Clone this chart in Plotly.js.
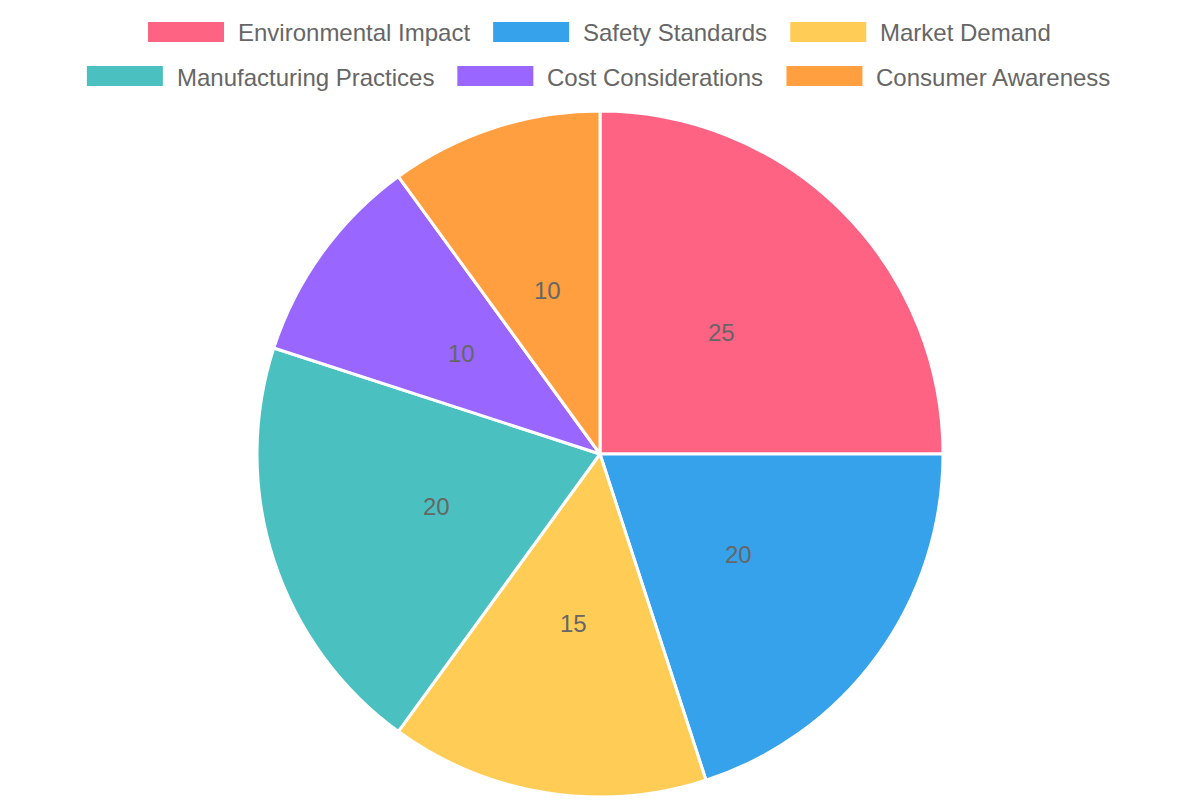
<!DOCTYPE html>
<html>
<head>
<meta charset="utf-8">
<script src="https://cdn.plot.ly/plotly-3.0.1.min.js"></script>
<style>
  html, body { margin: 0; padding: 0; background: #fff; }
  #chart { width: 1200px; height: 800px; }
</style>
</head>
<body>
<div id="chart"></div>
<script>
const factors = [
  "Environmental Impact",
  "Safety Standards",
  "Market Demand",
  "Manufacturing Practices",
  "Cost Considerations",
  "Consumer Awareness"
];
const shares = [25, 20, 15, 20, 10, 10];
const colors = ["#ff6384", "#36a2eb", "#ffcd56", "#4bc0c0", "#9966ff", "#ff9f40"];

const W = 1200, H = 800;
const FONT = "Liberation Sans, Arial, sans-serif";
const margin = { l: 0, r: 0, t: 111, b: 3 };
const plotW = W - margin.l - margin.r;
const plotH = H - margin.t - margin.b;
const radius = Math.min(plotW, plotH) / 2;

// pixel -> paper helpers (plot area spans the full width)
const px = (x) => (x - margin.l) / plotW;
const py = (y) => (H - margin.b - y) / plotH;

// value labels sit halfway out along each slice's middle angle
const total = shares.reduce((a, b) => a + b, 0);
let acc = 0;
const annotations = shares.map((v) => {
  const mid = ((acc + v / 2) / total) * 2 * Math.PI;
  acc += v;
  return {
    x: 0.5 + (0.5 * radius * Math.sin(mid)) / plotW,
    y: 0.5 + (0.5 * radius * Math.cos(mid)) / plotH,
    xref: "paper",
    yref: "paper",
    xanchor: "center",
    yanchor: "middle",
    text: String(v),
    showarrow: false,
    font: { size: 24, color: "#666", family: FONT },
  };
});

// legend with wide colour boxes, rows centred like the original
const shapes = [];
const ctx = document.createElement("canvas").getContext("2d");
ctx.font = "24px 'Liberation Sans', Arial, sans-serif";
const boxW = 76, boxH = 20, boxGap = 15, itemGap = 22, maxRow = 1180;
const items = factors.map((name, i) => ({
  name, color: colors[i], textW: ctx.measureText(name).width,
}));
const rows = [[]];
let rowW = 0;
items.forEach((it) => {
  const w = boxW + boxGap + it.textW;
  const add = rows[rows.length - 1].length ? itemGap + w : w;
  if (rowW + add > maxRow) { rows.push([it]); rowW = w; }
  else { rows[rows.length - 1].push(it); rowW += add; }
});
rows.forEach((row, r) => {
  const width = row.reduce((s, it) => s + boxW + boxGap + it.textW, 0) + itemGap * (row.length - 1);
  const cy = 32 + r * 44;
  let x = W / 2 - width / 2;
  row.forEach((it) => {
    shapes.push({
      type: "rect", xref: "paper", yref: "paper",
      x0: px(x), x1: px(x + boxW), y0: py(cy + boxH / 2), y1: py(cy - boxH / 2),
      fillcolor: it.color, line: { width: 0 },
    });
    annotations.push({
      x: px(x + boxW + boxGap - 3), y: py(cy + 1), xref: "paper", yref: "paper",
      xanchor: "left", yanchor: "middle", showarrow: false,
      text: it.name, font: { size: 24, color: "#666", family: FONT },
    });
    x += boxW + boxGap + it.textW + itemGap;
  });
});

const data = [
  {
    type: "pie",
    labels: factors,
    values: shares,
    sort: false,
    direction: "clockwise",
    rotation: 0,
    marker: { colors: colors, line: { color: "#fff", width: 3 } },
    textinfo: "none",
    hoverinfo: "label+value",
  },
];

const layout = {
  width: W,
  height: H,
  margin: margin,
  paper_bgcolor: "#fff",
  font: { family: FONT, color: "#666", size: 24 },
  showlegend: false,
  shapes: shapes,
  annotations: annotations,
};

Plotly.newPlot("chart", data, layout, { staticPlot: true });
</script>
</body>
</html>
